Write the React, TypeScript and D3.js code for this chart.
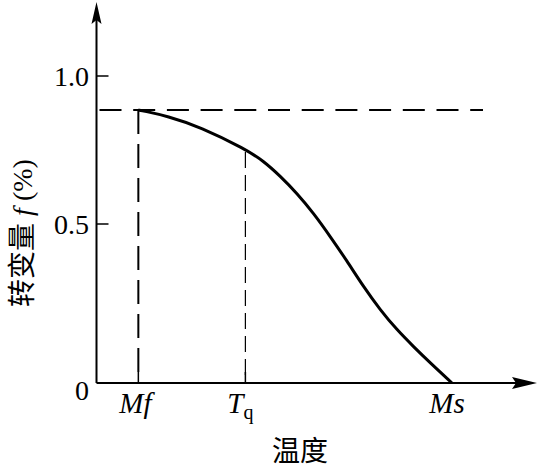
import React from "react";
import * as d3 from "d3";

// Curve: temperature (relative units) vs transformed fraction f
const curveT = [9.5, 10.7, 16.0, 23.6, 33.8, 37.9, 41.7, 45.5, 49.3, 53.1, 56.8, 60.6, 64.4, 68.2, 72.0, 75.7, 80.7];
const curveF = [0.885, 0.882, 0.865, 0.828, 0.753, 0.713, 0.662, 0.604, 0.536, 0.46, 0.385, 0.303, 0.23, 0.167, 0.114, 0.064, 0];

const yTickValues = [0, 0.5, 1.0];
const yTickLabels = ["0", "0.5", "1.0"];

const xMarkNames = ["Mf", "Tq", "Ms"];
const xMarkValues = [9.5, 33.8, 80.7];

const fMax = 0.885;

const W = 538;
const H = 470;

export default function App() {
  const x = d3.scaleLinear().domain([0, 100]).range([96.5, 537]);
  const y = d3.scaleLinear().domain([0, 0.5, 1]).range([383, 224, 76]);

  const pts = curveT.map((t, i) => [t, curveF[i]] as [number, number]);
  const line = d3
    .line<[number, number]>()
    .x((d) => x(d[0]))
    .y((d) => y(d[1]))
    .curve(d3.curveBasis);

  const x0 = x(0);
  const y0 = y(0);
  const serif = "'Liberation Serif', 'Times New Roman', serif";
  const cjk = "'Noto Sans CJK SC', sans-serif";

  const mfX = x(xMarkValues[0]);
  const tqX = x(xMarkValues[1]);
  const msX = x(xMarkValues[2]);
  const topY = y(fMax);

  return (
    <svg width={W} height={H} style={{ position: "absolute", left: 0, top: 0, background: "#fff" }}>
      <rect x={0} y={0} width={W} height={H} fill="#fff" />
      {/* axes */}
      <line x1={x0} y1={y0} x2={x0} y2={10} stroke="#000" strokeWidth={2} />
      <line x1={x0} y1={y0} x2={525} y2={y0} stroke="#000" strokeWidth={2} />
      <path d={`M${x0},2 L${x0 + 5},24 L${x0},20 L${x0 - 5},24 Z`} fill="#000" />
      <path d={`M537,${y0} L512,${y0 + 6} L516,${y0} L512,${y0 - 6} Z`} fill="#000" />

      {/* y ticks */}
      {yTickValues.map((v, i) =>
        v === 0 ? null : (
          <line key={"yt" + i} x1={x0} x2={x0 + 12} y1={y(v)} y2={y(v)} stroke="#000" strokeWidth={1.5} />
        )
      )}
      {yTickValues.map((v, i) => (
        <text
          key={"yl" + i}
          x={89}
          y={v === 0 ? y(v) + 17 : y(v) + 10}
          textAnchor="end"
          fontFamily={serif}
          fontSize={28}
        >
          {yTickLabels[i]}
        </text>
      ))}

      {/* x ticks */}
      {[mfX, tqX].map((px, i) => (
        <line key={"xt" + i} x1={px} x2={px} y1={y0} y2={y0 - 11} stroke="#000" strokeWidth={1.5} />
      ))}

      {/* dashed guides */}
      <line x1={x0} x2={483} y1={topY} y2={topY} stroke="#000" strokeWidth={2} strokeDasharray="22 11.7" strokeDashoffset={-3} />
      <line x1={mfX} x2={mfX} y1={topY} y2={y0} stroke="#000" strokeWidth={2} strokeDasharray="24 10" />
      <line x1={tqX} x2={tqX} y1={y(0.753) + 3} y2={y0} stroke="#000" strokeWidth={1.2} strokeDasharray="16 7" />

      {/* curve */}
      <path d={line(pts) || ""} fill="none" stroke="#000" strokeWidth={3} strokeLinejoin="round" />

      {/* x mark labels */}
      <text x={mfX - 3} y={413} textAnchor="middle" fontFamily={serif} fontStyle="italic" fontSize={29}>
        {xMarkNames[0]}
      </text>
      <text x={tqX - 5} y={413} textAnchor="middle" fontFamily={serif} fontSize={29}>
        <tspan fontStyle="italic">{xMarkNames[1].charAt(0)}</tspan>
        <tspan fontSize={20} dy={6}>{xMarkNames[1].charAt(1)}</tspan>
      </text>
      <text x={msX - 5} y={413} textAnchor="middle" fontFamily={serif} fontStyle="italic" fontSize={29}>
        {xMarkNames[2]}
      </text>

      {/* axis titles */}
      <text x={300} y={461} textAnchor="middle" fontFamily={cjk} fontSize={28}>
        温度
      </text>
      <text transform="translate(32,233) rotate(-90)" textAnchor="middle" fontSize={28}>
        <tspan fontFamily={cjk}>转变量</tspan>
        <tspan fontFamily={serif} fontStyle="italic"> f </tspan>
        <tspan fontFamily={serif}>(%)</tspan>
      </text>
    </svg>
  );
}
